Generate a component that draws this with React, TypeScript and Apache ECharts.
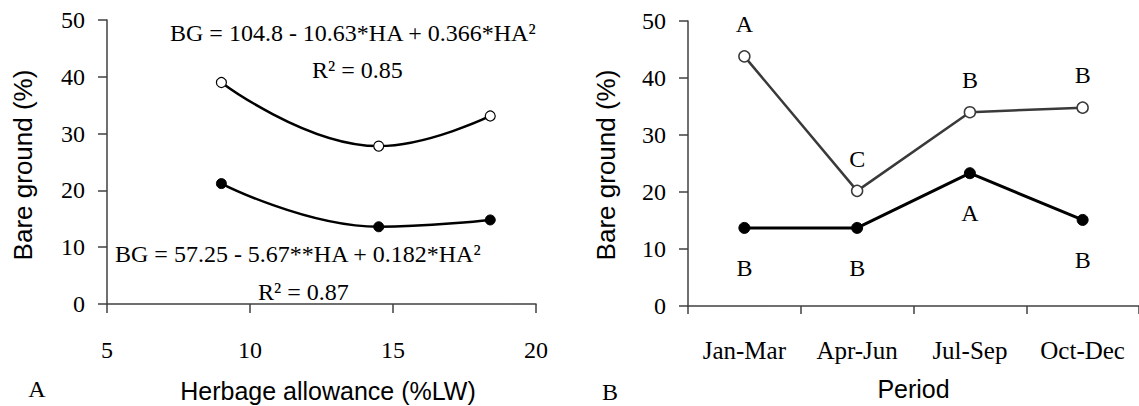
import React, { useEffect, useRef } from "react";
import * as echarts from "echarts";

// Panel A: bare ground vs herbage allowance
const allowance = [9, 14.5, 18.4];
const bareOpen = [39, 27.8, 33.1];
const bareFilled = [21.2, 13.6, 14.8];
const xTicksA = { min: 5, max: 20, interval: 5 };
const eqOpen = "BG = 104.8 - 10.63*HA + 0.366*HA²";
const r2Open = "R² = 0.85";
const eqFilled = "BG = 57.25 - 5.67**HA + 0.182*HA²";
const r2Filled = "R² = 0.87";

// Panel B: bare ground by period
const periods = ["Jan-Mar", "Apr-Jun", "Jul-Sep", "Oct-Dec"];
const periodOpen = [43.8, 20.2, 34.0, 34.8];
const periodFilled = [13.7, 13.7, 23.3, 15.1];
const openLetters = ["A", "C", "B", "B"];
const filledLetters = ["B", "B", "A", "B"];

const yTicks = { min: 0, max: 50, interval: 10 };

const SERIF = "Liberation Serif";
const SANS = "Liberation Sans";
const AXIS = "#404040";

export default function App() {
  const ref = useRef<HTMLDivElement>(null);
  useEffect(() => {
    if (!ref.current) return;
    const chart = echarts.init(ref.current, undefined, { renderer: "svg" });

    const yValueAxis = (gridIndex: number) => ({
      type: "value",
      gridIndex,
      position: "left",
      min: yTicks.min,
      max: yTicks.max,
      interval: yTicks.interval,
      splitLine: { show: false },
      axisLine: { show: true, lineStyle: { color: AXIS, width: 1.5 } },
      axisTick: { show: true, length: 9, lineStyle: { color: AXIS, width: 1.5 } },
      axisLabel: { fontFamily: SERIF, fontSize: 24, color: "#000", margin: 22 },
    });

    const serifText = { fontFamily: SERIF, fontSize: 24, fill: "#000" };
    const sansText = { fontFamily: SANS, fontSize: 26, fill: "#000" };

    chart.setOption({
      animation: false,
      backgroundColor: "#fff",
      textStyle: { fontFamily: SERIF, color: "#000" },
      grid: [
        { left: 107, top: 20, width: 429, height: 284 },
        { left: 688, top: 21, width: 454, height: 288 },
      ],
      xAxis: [
        {
          type: "value",
          gridIndex: 0,
          position: "bottom",
          min: xTicksA.min,
          max: xTicksA.max,
          interval: xTicksA.interval,
          splitLine: { show: false },
          axisLine: { show: true, lineStyle: { color: AXIS, width: 1.5 } },
          axisTick: { show: true, length: 9, lineStyle: { color: AXIS, width: 1.5 } },
          axisLabel: { fontFamily: SERIF, fontSize: 24, color: "#000", margin: 34 },
        },
        {
          type: "category",
          gridIndex: 1,
          data: periods,
          boundaryGap: true,
          name: "Period",
          nameLocation: "middle",
          nameGap: 70,
          nameTextStyle: { fontFamily: SANS, fontSize: 25, color: "#000" },
          axisLine: { show: true, lineStyle: { color: AXIS, width: 1.5 } },
          axisTick: { show: true, length: 8, alignWithLabel: false, lineStyle: { color: AXIS, width: 1.5 } },
          axisLabel: { fontFamily: SERIF, fontSize: 25, color: "#000", margin: 32, interval: 0 },
        },
      ],
      yAxis: [yValueAxis(0), yValueAxis(1)],
      series: [
        {
          type: "line",
          xAxisIndex: 0,
          yAxisIndex: 0,
          data: allowance.map((x, i) => [x, bareOpen[i]]),
          smooth: 0.45,
          symbol: "circle",
          symbolSize: 10,
          lineStyle: { color: "#000", width: 2.5 },
          itemStyle: { color: "#fff", borderColor: "#000", borderWidth: 1.2 },
          z: 3,
        },
        {
          type: "line",
          xAxisIndex: 0,
          yAxisIndex: 0,
          data: allowance.map((x, i) => [x, bareFilled[i]]),
          smooth: 0.45,
          symbol: "circle",
          symbolSize: 10,
          lineStyle: { color: "#000", width: 2.5 },
          itemStyle: { color: "#000", borderColor: "#000", borderWidth: 1 },
          z: 3,
        },
        {
          type: "line",
          xAxisIndex: 1,
          yAxisIndex: 1,
          data: periodOpen,
          symbol: "circle",
          symbolSize: 11,
          lineStyle: { color: "#3a3a3a", width: 2.5 },
          itemStyle: { color: "#fff", borderColor: "#3a3a3a", borderWidth: 1.5 },
          label: {
            show: true,
            position: "top",
            distance: 14,
            formatter: (p: any) => openLetters[p.dataIndex],
            fontFamily: SERIF,
            fontSize: 24,
            color: "#000",
          },
          z: 3,
        },
        {
          type: "line",
          xAxisIndex: 1,
          yAxisIndex: 1,
          data: periodFilled,
          symbol: "circle",
          symbolSize: 11,
          lineStyle: { color: "#000", width: 3 },
          itemStyle: { color: "#000", borderColor: "#000", borderWidth: 1 },
          label: {
            show: true,
            position: "bottom",
            distance: 22,
            formatter: (p: any) => filledLetters[p.dataIndex],
            fontFamily: SERIF,
            fontSize: 24,
            color: "#000",
          },
          z: 3,
        },
      ],
      graphic: [
        { type: "text", x: 170, y: 33, style: { ...serifText, text: eqOpen, align: "left", verticalAlign: "middle" } },
        { type: "text", x: 312, y: 70, style: { ...serifText, text: r2Open, align: "left", verticalAlign: "middle" } },
        { type: "text", x: 115, y: 254, style: { ...serifText, text: eqFilled, align: "left", verticalAlign: "middle" } },
        { type: "text", x: 258, y: 292, style: { ...serifText, text: r2Filled, align: "left", verticalAlign: "middle" } },
        {
          type: "text",
          x: 23,
          y: 165,
          rotation: Math.PI / 2,
          style: { ...sansText, text: "Bare ground (%)", align: "center", verticalAlign: "middle" },
        },
        {
          type: "text",
          x: 606,
          y: 165,
          rotation: Math.PI / 2,
          style: { ...sansText, text: "Bare ground (%)", align: "center", verticalAlign: "middle" },
        },
        {
          type: "text",
          x: 328,
          y: 391,
          style: { ...sansText, fontSize: 25, text: "Herbage allowance (%LW)", align: "center", verticalAlign: "middle" },
        },
        { type: "text", x: 37, y: 389, style: { ...serifText, text: "A", align: "center", verticalAlign: "middle" } },
        { type: "text", x: 610, y: 392, style: { ...serifText, text: "B", align: "center", verticalAlign: "middle" } },
      ],
    });
    return () => chart.dispose();
  }, []);

  return (
    <div
      ref={ref}
      style={{ position: "absolute", left: 0, top: 0, width: 1139, height: 406, background: "#fff" }}
    />
  );
}
